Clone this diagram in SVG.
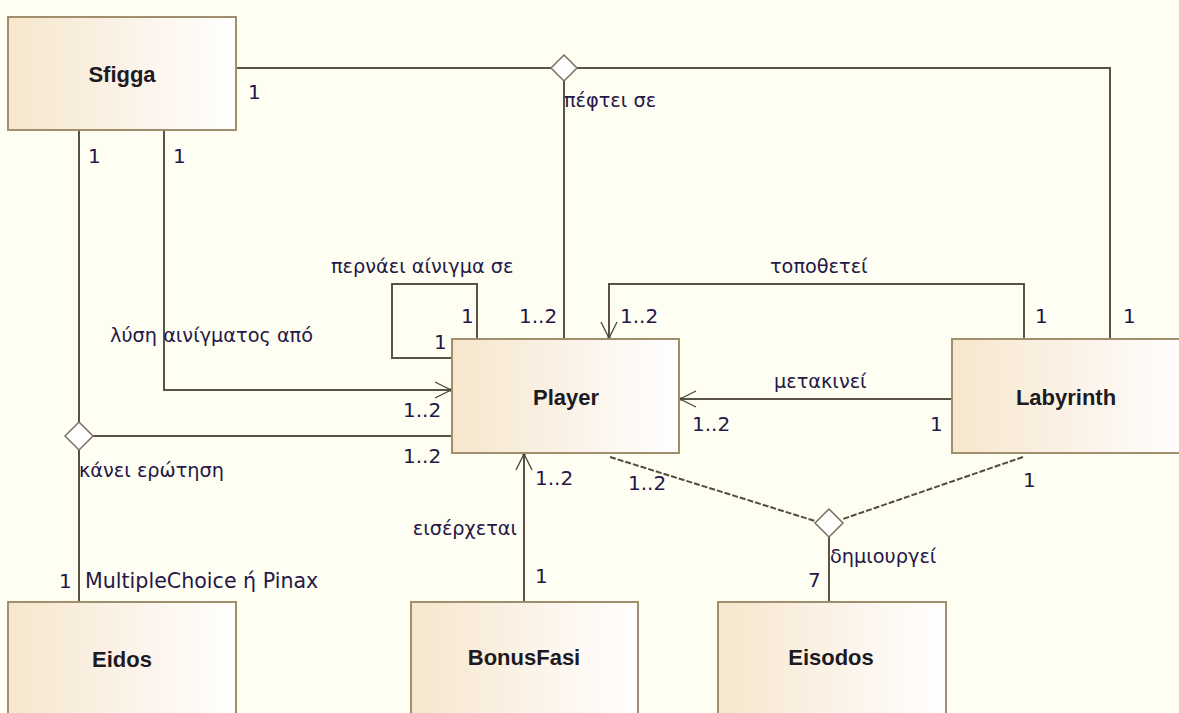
<svg xmlns="http://www.w3.org/2000/svg" width="1179" height="713" viewBox="0 0 1179 713">
  <defs>
    <linearGradient id="classFill" x1="0" y1="0" x2="1" y2="0">
      <stop offset="0" stop-color="#f6e7cc"/>
      <stop offset="0.5" stop-color="#fbf2e7"/>
      <stop offset="1" stop-color="#ffffff"/>
    </linearGradient>
    <marker id="openArrow" markerUnits="userSpaceOnUse" markerWidth="20" markerHeight="20" viewBox="-17 -10 20 20" refX="0" refY="0" orient="auto">
      <path d="M-16,-8 L0,0 L-16,8" fill="none" stroke="#4d4536" stroke-width="1.3"/>
      <circle cx="0" cy="0" r="1.8" fill="#4d4536"/>
    </marker>
  </defs>
  <style>
    .cls { fill: url(#classFill); stroke: #a08e6c; stroke-width: 2; }
    .name { font-family: "Liberation Sans", Arial, sans-serif; font-weight: bold; font-size: 22px; fill: #1c1a22; text-anchor: middle; }
    .lbl { font-family: "DejaVu Sans", Tahoma, sans-serif; font-size: 20px; fill: #251848; }
    .gr { font-size: 19.3px; }
    .lat { font-size: 20.6px; }
    .edge { fill: none; stroke: #5a5242; stroke-width: 2; }
    .dash { fill: none; stroke: #544c3e; stroke-width: 2; stroke-dasharray: 6 2; }
    .arrow { marker-end: url(#openArrow); }
    .dia { fill: #ffffff; stroke: #7a7060; stroke-width: 1.5; }
  </style>

  <rect x="0" y="0" width="1179" height="713" fill="#fefef2"/>

  <!-- associations -->
  <g id="connectors">
    <!-- Sfigga / Player / Labyrinth: πέφτει σε -->
    <polyline class="edge" points="236,68 1110,68 1110,339"/>
    <line class="edge" x1="564" y1="80" x2="564" y2="339"/>
    <path class="dia" d="M564,55 L577,68 L564,81 L551,68 Z"/>

    <!-- Sfigga / Player / Eidos: κάνει ερώτηση -->
    <line class="edge" x1="79" y1="130" x2="79" y2="602"/>
    <line class="edge" x1="92" y1="436" x2="452" y2="436"/>
    <path class="dia" d="M79,422 L93,436 L79,450 L65,436 Z"/>

    <!-- λύση αινίγματος από -->
    <polyline class="edge arrow" points="164,130 164,390 451,390"/>

    <!-- self association: περνάει αίνιγμα σε -->
    <polyline class="edge" points="477,339 477,284 392,284 392,358 452,358"/>

    <!-- τοποθετεί -->
    <polyline class="edge arrow" points="1024,339 1024,284 609,284 609,338"/>

    <!-- μετακινεί -->
    <line class="edge arrow" x1="952" y1="399" x2="680" y2="399"/>

    <!-- εισέρχεται -->
    <line class="edge arrow" x1="524" y1="602" x2="524" y2="454"/>

    <!-- δημιουργεί (ternary) -->
    <line class="dash" x1="610" y1="457" x2="815" y2="521"/>
    <line class="dash" x1="1023" y1="457" x2="843" y2="519"/>
    <line class="edge" x1="829" y1="536" x2="829" y2="602"/>
    <path class="dia" d="M829,509 L843,523 L829,537 L815,523 Z"/>
  </g>

  <!-- classes -->
  <g id="Sfigga">
    <rect class="cls" x="8" y="17" width="228" height="113"/>
    <text class="name" x="122" y="82">Sfigga</text>
  </g>
  <g id="Player">
    <rect class="cls" x="452" y="339" width="227" height="114"/>
    <text class="name" x="566" y="405">Player</text>
  </g>
  <g id="Labyrinth">
    <rect class="cls" x="952" y="339" width="240" height="114"/>
    <text class="name" x="1066" y="405">Labyrinth</text>
  </g>
  <g id="Eidos">
    <rect class="cls" x="8" y="602" width="228" height="120"/>
    <text class="name" x="122" y="667">Eidos</text>
  </g>
  <g id="BonusFasi">
    <rect class="cls" x="411" y="602" width="227" height="120"/>
    <text class="name" x="524" y="665">BonusFasi</text>
  </g>
  <g id="Eisodos">
    <rect class="cls" x="718" y="602" width="228" height="120"/>
    <text class="name" x="831" y="665">Eisodos</text>
  </g>

  <!-- association names and multiplicities -->
  <g id="labels" class="lbl">
    <text x="248" y="99">1</text>
    <text x="88" y="163">1</text>
    <text x="173" y="163">1</text>
    <text class="gr" x="564" y="107">πέφτει σε</text>
    <text class="gr" x="331" y="273">περνάει αίνιγμα σε</text>
    <text x="519" y="323">1..2</text>
    <text x="461" y="323">1</text>
    <text x="434" y="349">1</text>
    <text class="gr" x="110" y="342">λύση αινίγματος από</text>
    <text x="403" y="417">1..2</text>
    <text x="403" y="463">1..2</text>
    <text class="gr" x="79" y="477">κάνει ερώτηση</text>
    <text x="59" y="588">1</text>
    <text class="lat" x="85" y="588">MultipleChoice ή Pinax</text>
    <text class="gr" x="770" y="273">τοποθετεί</text>
    <text x="620" y="323">1..2</text>
    <text x="1035" y="323">1</text>
    <text x="1123" y="323">1</text>
    <text class="gr" x="774" y="388">μετακινεί</text>
    <text x="692" y="431">1..2</text>
    <text x="930" y="431">1</text>
    <text x="535" y="485">1..2</text>
    <text class="gr" x="517" y="535" text-anchor="end">εισέρχεται</text>
    <text x="535" y="583">1</text>
    <text x="628" y="490">1..2</text>
    <text x="1023" y="487">1</text>
    <text class="gr" x="830" y="563">δημιουργεί</text>
    <text x="808" y="587">7</text>
  </g>
</svg>
